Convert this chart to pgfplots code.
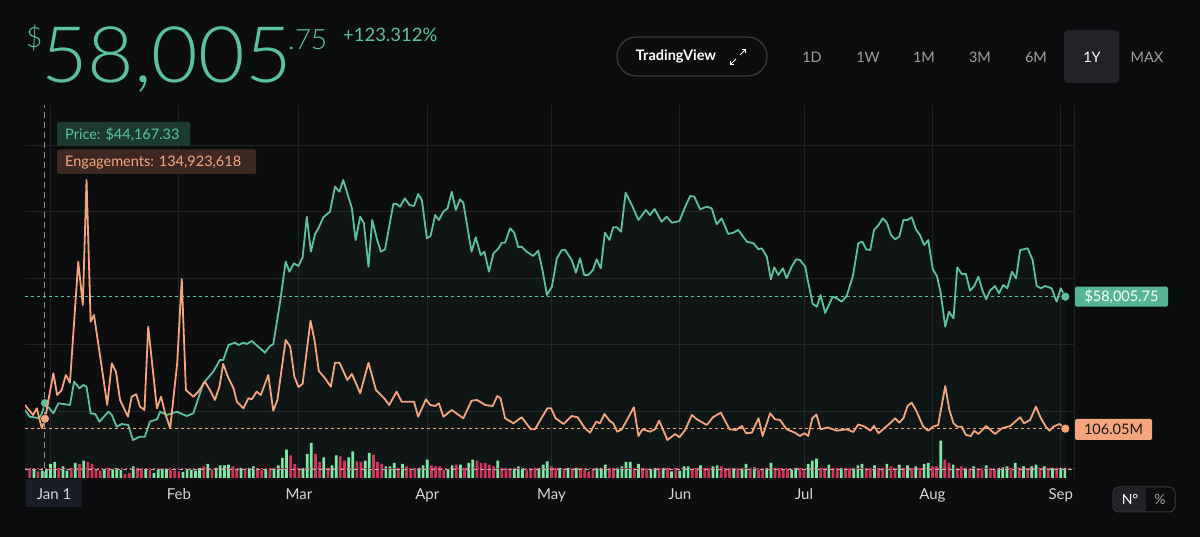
\documentclass[border=0pt]{standalone}
\usepackage{fontspec}
\setmainfont{Lato}
\newfontfamily\thinfont{Lato Light}
\usepackage{pgfplots}
\pgfplotsset{compat=1.18}
\usepackage{pgfplotstable}
\usetikzlibrary{arrows.meta}

\definecolor{bg}{HTML}{0C0D0F}
\definecolor{gridc}{HTML}{202226}
\definecolor{pgreen}{HTML}{5CC29E}
\definecolor{porange}{HTML}{F5A57E}
\definecolor{vgreen}{HTML}{7DE8A2}
\definecolor{vred}{HTML}{D2355C}
\definecolor{tipg}{HTML}{1D3A31}
\definecolor{tipo}{HTML}{3D2921}
\definecolor{labg}{HTML}{56B593}
\definecolor{janbg}{HTML}{1A1D26}
\definecolor{txtgray}{HTML}{A0A0A0}
\definecolor{tickc}{HTML}{D6D6D6}
\definecolor{pillc}{HTML}{3A3B3F}
\definecolor{selbg}{HTML}{222327}
\definecolor{crossc}{HTML}{8E8E8E}

% day index (0 = Jan 1), BTC price in USD
\pgfplotstableread{
d p
-6.2 43277
-5.0 42406
-2.5 42198
-1.3 44167
0.7 42848
1.9 44148
4.7 43927
5.7 46956
7.0 46098
7.9 46527
8.7 46306
9.7 42848
10.8 42757
11.8 41756
14.0 43056
14.8 42627
16.0 41106
17.2 41457
18.8 41327
19.9 39377
21.6 39806
22.8 39806
24.0 41756
25.7 42068
26.5 43056
28.1 42627
30.5 43056
32.9 42497
34.5 42848
36.9 46748
39.3 48256
40.9 49777
41.7 49777
43.0 51727
44.6 52026
45.4 51727
46.6 52026
47.4 51857
48.6 52247
50.2 51506
51.8 50726
53.0 51597
53.8 51818
55.4 57148
56.8 62556
57.7 61256
58.8 62348
59.9 61997
60.9 63167
61.9 68406
62.9 63856
63.9 66157
64.7 66898
65.9 68328
67.5 69056
68.7 72306
69.8 71656
70.7 73177
72.8 69498
73.7 65377
74.8 68406
75.7 67548
76.8 61906
77.7 67977
78.9 65377
79.8 63856
80.8 64168
82.8 70057
83.6 70057
84.4 69706
85.6 70798
86.7 69927
87.8 69797
88.8 71357
89.7 70577
90.9 65598
91.8 65897
92.9 68627
93.8 67977
94.9 69056
95.9 69498
96.9 71656
97.9 69277
98.9 70668
99.7 70226
101.7 63856
102.7 65728
103.9 63427
104.8 63856
105.9 61256
107.0 63648
108.2 64298
109.0 65026
109.8 65026
111.0 66898
112.0 66326
113.0 64428
113.8 64506
115.0 63856
116.6 63297
117.8 63986
118.9 61256
119.9 58227
121.1 59306
122.3 62998
123.5 64077
124.3 64077
125.9 62777
126.9 61126
127.9 62998
128.9 60827
129.9 60827
131.0 61477
131.9 62868
132.9 61698
133.9 66326
135.0 65377
135.9 67028
136.8 67028
137.8 66456
138.9 71526
140.4 69927
142.0 67977
143.8 69277
144.8 68627
145.9 69407
147.6 67756
148.8 68406
150.1 67626
151.9 67847
153.3 69706
154.5 71097
155.5 71006
156.9 69368
158.5 69706
159.7 69498
160.9 67418
162.1 68198
163.7 66157
164.9 66326
166.1 66677
168.2 65156
169.8 64948
171.0 64168
171.8 64298
173.0 63206
174.0 60268
174.8 61828
175.8 60827
176.9 61698
177.8 60398
179.0 61906
180.1 62868
181.0 62777
182.3 61906
182.8 60438
184.1 57057
185.1 56706
186.0 58227
187.1 55887
188.9 58006
189.9 57798
191.1 57356
192.3 58097
193.8 60697
195.1 64948
196.1 65156
197.0 64168
198.0 64077
198.9 66677
200.0 67327
201.0 68198
202.0 67626
203.0 66027
204.0 65468
205.0 65806
206.0 67977
207.0 67977
208.0 68328
209.1 66677
210.0 66027
211.0 64727
212.0 65377
213.1 61568
214.1 60697
215.0 58526
216.1 54106
217.0 56056
218.1 55198
219.0 61828
220.1 60957
221.1 60957
222.1 58786
223.1 59397
224.1 60606
225.2 58656
226.0 57668
226.9 58786
228.1 59397
229.1 58448
230.1 59527
231.1 59098
232.2 61256
233.2 60398
234.2 64077
235.1 64168
236.0 64298
237.2 62777
238.2 59397
239.2 59098
240.2 59397
241.8 59098
243.0 57356
244.0 59098
245.1 58006
}\pricedata

% engagements in millions
\pgfplotstableread{
d e
-6.2 174.7
-4.2 145.7
-3.3 165.2
-2.1 107.2
-1.3 134.9
-0.5 189.2
0.7 266.7
1.6 203.7
2.7 218.2
3.7 261.7
4.7 239.4
6.7 590.3
7.8 464.7
8.7 827.2
9.7 416.3
10.5 435.7
12.0 314.8
13.7 174.7
14.8 295.7
15.8 271.3
16.8 189.2
18.7 140.8
19.6 198.8
20.7 205.8
21.6 169.8
22.7 160.2
23.6 401.8
25.7 165.2
26.7 198.8
27.7 150.7
28.9 107.2
30.6 295.7
31.7 540.1
32.7 218.2
34.5 198.8
35.7 213.3
37.3 242.3
38.5 218.2
39.7 189.2
40.8 227.8
41.7 293.6
43.0 252.2
44.2 223.2
45.0 184.3
46.6 165.2
47.8 194.2
48.6 191.3
49.8 213.3
50.8 203.7
52.6 261.7
53.8 158.2
54.8 189.2
56.8 363.2
57.9 343.8
58.9 256.8
59.9 226.9
60.9 236.5
62.8 419.2
63.8 360.3
64.8 273.3
66.3 252.2
67.7 227.8
68.7 297.4
69.8 297.4
71.7 247.2
72.8 264.6
73.6 242.3
74.8 208.7
76.8 297.4
78.6 218.2
80.6 194.2
81.8 174.7
83.6 213.3
84.8 184.3
86.7 184.3
87.8 184.3
88.8 140.8
90.7 191.3
91.7 174.7
92.9 171.8
93.8 179.7
94.9 140.8
96.9 160.2
99.7 136.2
101.7 187.2
103.0 189.2
105.0 174.7
106.8 171.8
107.9 200.8
108.7 194.2
109.8 136.2
111.8 121.7
113.8 139.1
116.0 104.3
117.0 104.3
120.0 165.2
120.9 165.2
122.0 136.2
123.9 119.6
125.9 142.8
127.3 139.1
129.1 107.2
130.3 94.4
131.8 126.3
132.7 121.7
133.8 148.6
135.0 129.2
135.9 121.7
136.9 97.3
138.0 104.3
140.9 168.1
142.0 84.8
143.0 104.3
144.8 97.3
146.0 104.3
147.0 129.2
149.0 73.2
150.9 90.6
151.9 81.1
153.3 102.2
154.9 145.7
156.1 133.3
158.5 116.7
160.0 139.1
161.9 152.4
164.0 104.3
165.6 102.2
167.0 113.8
168.0 92.7
169.4 94.4
171.0 136.2
172.0 84.8
173.8 150.7
175.0 133.3
176.2 131.2
177.8 104.3
179.8 94.4
181.0 84.8
182.1 92.7
183.0 84.8
184.0 136.2
185.0 147.2
186.0 104.3
187.7 109.5
189.9 100.2
192.3 104.3
193.9 96.4
195.1 118.2
196.7 111.8
198.0 100.2
198.9 113.8
200.0 92.7
201.8 111.8
202.8 121.7
204.0 136.2
205.0 123.4
206.0 136.2
207.0 171.8
208.0 181.4
209.1 158.2
210.8 111.8
212.0 100.2
213.1 111.8
214.4 116.7
216.1 229.8
217.1 160.2
218.1 121.7
219.0 111.8
220.1 111.8
221.1 87.7
222.3 84.8
223.1 100.2
224.1 90.6
226.0 113.8
228.1 90.6
229.8 107.2
231.8 113.8
234.2 139.1
235.1 121.7
236.6 131.2
238.0 169.8
239.2 136.2
240.4 111.8
241.3 100.2
242.2 111.8
243.7 119.6
245.1 106.05
}\engdata

% volume (billions), up days
\pgfplotstableread{
d v
-4 16.7
-2 14.7
-1 16.7
0 28
1 32
3 23.3
4 14.7
6 30
8 34.7
13 16.7
15 16.7
16 20
17 16.7
20 23.3
23 16.7
25 10
26 16.7
27 18.7
28 16.7
32 12
33 16.7
34 16.7
35 14.7
36 20
38 28
40 20
41 25.3
42 25.3
43 26.7
46 20
48 20
49 23.3
52 16.7
54 20
55 25.3
56 40
57 56.7
61 20
62 48
63 70
66 41.3
68 25.3
69 45.3
72 41.3
73 53.3
76 34.7
77 50
81 23.3
82 23.3
83 30
85 28
89 20
90 25.3
91 36.7
96 16.7
97 25.3
99 26.7
101 30
102 36.7
108 34.7
112 20
113 23.3
114 20
118 20
119 26.7
120 33.3
123 20
125 20
127 20
132 20
133 20
134 26.7
137 20
138 23.3
139 32
140 32
142 28
145 16.7
146 20
148 20
150 13.3
152 14.7
153 23.3
154 23.3
157 25.3
160 23.3
161 25.3
165 20
167 20
168 28
170 21.3
173 20
174 30
179 16.7
180 20
183 28
184 34.7
185 38.7
188 26.7
191 20
194 20
195 25.3
196 28
199 25.3
202 28
205 26.7
207 25.3
209 23.3
211 28
212 30
215 74.7
218 26.7
221 20
223 23.3
226 25.3
229 20
230 21.3
231 23.3
233 30
235 23.3
237 23.3
238 26.7
240 23.3
242 20
244 20
245 20
}\volup

% volume (billions), down days
\pgfplotstableread{
d v
-5 20
-3 13.3
2 20
5 20
7 28
9 32
10 28
11 16.7
12 14.7
14 20
18 8
19 10
21 20
22 18.7
24 16.7
29 16.7
30 14.7
31 13.3
37 23.3
39 16.7
44 23.3
45 16.7
47 16.7
50 20
51 16.7
53 20
58 45.3
59 28
60 20
64 48
65 32
67 20
70 43.3
71 34.7
74 33.3
75 32
78 46.7
79 32
80 28
84 20
86 23.3
87 18.7
88 20
92 25.3
93 23.3
94 23.3
95 16.7
98 26.7
100 20
103 34.7
104 30
105 30
106 26.7
107 23.3
109 20
110 20
111 18.7
115 16.7
116 18.7
117 20
121 23.3
122 20
124 18.7
126 18.7
128 20
129 18.7
130 13.3
131 16.7
135 20
136 20
141 18.7
143 20
144 18.7
147 20
149 20
151 20
155 18.7
156 20
158 20
159 20
162 23.3
163 20
164 20
166 18.7
169 20
171 16.7
172 16.7
175 20
176 20
177 16.7
178 18.7
181 20
182 16.7
186 20
187 20
189 20
190 20
192 20
193 18.7
197 20
198 20
200 20
201 20
203 23.3
204 20
206 20
208 20
210 20
213 23.3
214 23.3
216 36.7
217 30
219 20
220 23.3
222 18.7
224 20
225 16.7
227 20
228 16.7
232 20
234 21.3
236 20
239 20
241 20
243 20
}\voldown

\pgfplotsset{base/.style={at={(25pt,59pt)}, anchor=south west, scale only axis,
  width=1049pt, height=373pt, xmin=-6.16, xmax=247.2}}

\begin{document}
\begin{tikzpicture}[x=1pt,y=1pt]
\fill[bg] (0,0) rectangle (1200,537);
\useasboundingbox (0,0) rectangle (1200,537);

% grid, month labels, price area
\begin{axis}[base, ymin=34437, ymax=82927,
  axis line style={draw=none}, tick style={draw=none},
  scaled y ticks=false, scaled x ticks=false,
  xtick={0,31,60,91,121,152,182,213,244},
  xticklabels={,Feb,Mar,Apr,May,Jun,Jul,Aug,Sep},
  extra x ticks={247.2}, extra x tick labels={},
  ytick={43147,51792,60437,69082,77727}, yticklabels={},
  grid=major, grid style={gridc, line width=0.9pt},
  xticklabel style={font=\fontsize{15}{17}\selectfont, text=tickc, anchor=base, yshift=-22pt}]
\addplot[draw=none, fill=pgreen, fill opacity=0.05] table[x=d,y=p]{\pricedata} \closedcycle;
\draw[color=crossc, line width=1pt, dash pattern=on 6pt off 4pt] (axis cs:-1.33,34437) -- (axis cs:-1.33,82927);
\end{axis}

% volume bars
\begin{axis}[base, hide axis, ymin=0, ymax=746]
\addplot[ybar, bar width=2.7pt, bar shift=0pt, fill=vgreen, draw=none] table[x=d,y=v]{\volup};
\addplot[ybar, bar width=2.7pt, bar shift=0pt, fill=vred, draw=none] table[x=d,y=v]{\voldown};
\addplot[vred, line width=0.8pt, dash pattern=on 2pt off 2pt] coordinates {(-6.16,20) (247.2,20)};
\addplot[gray!60, line width=0.6pt, dash pattern=on 4pt off 3pt] coordinates {(-6.16,16.5) (247.2,16.5)};
\end{axis}

% price
\begin{axis}[base, hide axis, ymin=34437, ymax=82927]
\addplot[pgreen, line width=0.9pt, dash pattern=on 3pt off 3pt] coordinates {(-6.16,58006) (245.1,58006)};
\addplot[pgreen, line width=1.8pt, line join=round] table[x=d,y=p]{\pricedata};
\addplot[only marks, mark=*, mark size=4.5pt, mark options={fill=pgreen, draw=none}] coordinates {(-1.33,44167) (245.1,58006)};
\end{axis}

% engagements
\begin{axis}[base, hide axis, ymin=-37, ymax=1044.7]
\addplot[porange, line width=0.9pt, dash pattern=on 3pt off 3pt] coordinates {(-6.16,106.05) (245.1,106.05)};
\addplot[porange, line width=1.8pt, line join=round] table[x=d,y=e]{\engdata};
\addplot[only marks, mark=*, mark size=4.5pt, mark options={fill=porange, draw=none}] coordinates {(-1.33,134.9) (245.1,106.05)};
\end{axis}

% header
\node[anchor=base west, inner sep=0, text=pgreen, font=\thinfont\fontsize{28}{28}\selectfont] at (26,489) {\$};
\node[anchor=base west, inner sep=0, text=pgreen, font=\thinfont\fontsize{78}{78}\selectfont, xscale=1.03] at (41,454) {58,005};
\node[anchor=base west, inner sep=0, text=pgreen, font=\thinfont\fontsize{28}{28}\selectfont] at (288,487) {.75};
\node[anchor=base west, inner sep=0, text=pgreen, font=\fontsize{18.5}{18.5}\selectfont] at (343,495) {+123.312\%};

% top right controls
\draw[pillc, line width=1.2pt, rounded corners=19.5pt] (617,461) rectangle (767,500);
\node[anchor=center, inner sep=0, text=white, font=\bfseries\fontsize{14.5}{14.5}\selectfont] at (676,480.5) {TradingView};
\draw[white, line width=1pt, -{Straight Barb[length=2.5pt,width=5pt]}] (740,482) -- (746,488);
\draw[white, line width=1pt, -{Straight Barb[length=2.5pt,width=5pt]}] (736,478) -- (730,472);
\fill[selbg, rounded corners=4pt] (1064,454) rectangle (1119,507);
\foreach \lab/\xx in {1D/812,1W/868,1M/924,3M/980,6M/1036,MAX/1147}
  \node[anchor=center, inner sep=0, text=txtgray, font=\fontsize{14.5}{14.5}\selectfont] at (\xx,480) {\lab};
\node[anchor=center, inner sep=0, text=white, font=\fontsize{14.5}{14.5}\selectfont] at (1092,480) {1Y};

% tooltip
\fill[tipg, rounded corners=2pt] (57,391) rectangle (190,415);
\node[anchor=base west, inner sep=0, text=pgreen, font=\fontsize{14.5}{14.5}\selectfont] at (65,397.5) {Price: \$44,167.33};
\fill[tipo, rounded corners=2pt] (57,363) rectangle (256,387.5);
\node[anchor=base west, inner sep=0, text=porange, font=\fontsize{14.5}{14.5}\selectfont] at (65,370) {Engagements: 134,923,618};

% right value labels
\fill[labg, rounded corners=1.5pt] (1075,230.3) rectangle (1168,250.3);
\node[anchor=center, inner sep=0, text=white, font=\fontsize{14.5}{14.5}\selectfont] at (1121.5,240.3) {\$58,005.75};
\fill[porange, rounded corners=1.5pt] (1075,97) rectangle (1152,118);
\node[anchor=center, inner sep=0, text=black!90, font=\fontsize{14.5}{14.5}\selectfont] at (1113.5,107.5) {106.05M};

% bottom
\fill[janbg] (26,30) rectangle (82,58);
\node[anchor=base, inner sep=0, text=tickc, font=\fontsize{15}{17}\selectfont] at (54,37) {Jan 1};
\draw[pillc, fill=bg, line width=1pt, rounded corners=6pt] (1113,25) rectangle (1175,50);
\fill[selbg, rounded corners=5pt] (1114,26) rectangle (1146,49);
\fill[selbg] (1135,26) rectangle (1146,49);
\node[anchor=center, inner sep=0, text=white, font=\fontsize{14}{14}\selectfont] at (1130,37.5) {N°};
\node[anchor=center, inner sep=0, text=txtgray, font=\fontsize{14}{14}\selectfont] at (1160,37.5) {\%};
\end{tikzpicture}
\end{document}
